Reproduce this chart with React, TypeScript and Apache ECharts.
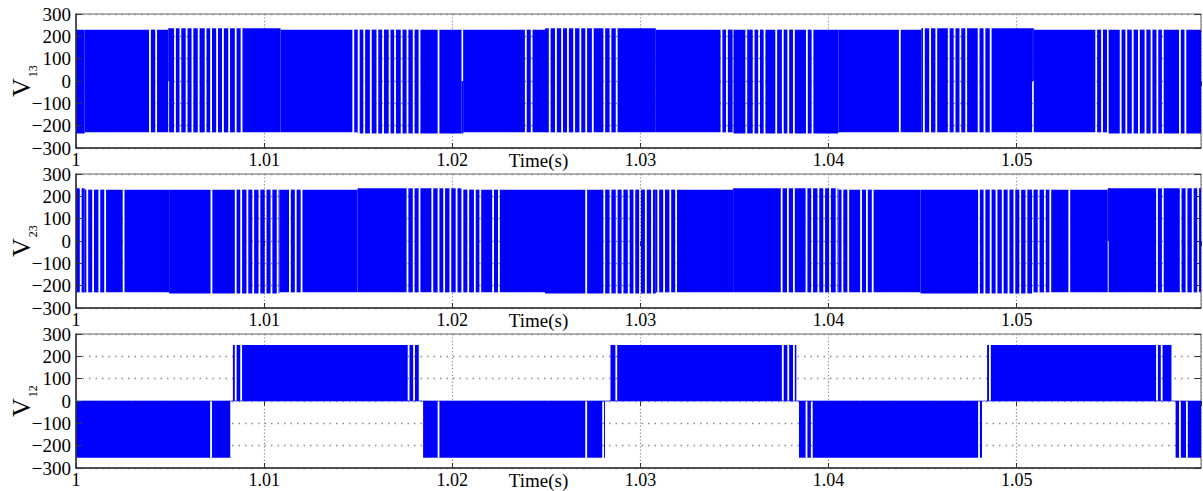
import React, { useEffect, useRef } from 'react';
import * as echarts from 'echarts';

// ---------- data (times in ms after t = 1 s) ----------
const T_END_MS = 59.8;
const X_MIN = 1;
const X_MAX = 1 + T_END_MS / 1000;
const X_LABELS = ['1', '1.01', '1.02', '1.03', '1.04', '1.05'];
const Y_LABELS = ['\u2212300', '\u2212200', '\u2212100', '0', '100', '200', '300'];
const PANEL_SUBS = ['13', '23', '12'];

// band levels (V)
const HI_NORMAL = 230;
const HI_RAISED = 236;
const LO_NORMAL = -230;
const LO_LOWERED = -235;
const V12_HI = 251;
const V12_LO = -254;

// V13 : white gaps in the PWM band
const v13Gaps = [3.93, 4.26, 5.26, 5.55, 5.88, 6.19, 6.52, 6.89, 7.18, 7.5, 7.81, 8.14, 8.49, 8.8,
  14.74, 15.03, 15.32, 15.67, 16.02, 16.32, 16.67, 16.96, 17.31, 17.62, 17.95, 18.26, 19.27,
  23.91, 24.22, 25.18, 25.51, 25.84, 26.15, 26.48, 26.81, 27.12, 27.47, 28.08, 28.41, 28.74,
  34.31, 34.6, 34.95, 35.63, 36.02, 36.31, 36.6, 37.22, 37.57, 37.86, 38.16, 38.85, 39.15,
  43.79, 45.07, 45.4, 45.73, 46.39, 46.7, 47.01, 47.32, 47.98, 48.29, 48.62,
  54.23, 54.54, 54.85, 55.53, 55.83, 56.17, 56.5, 56.85, 57.17, 57.48, 57.77, 58.68, 58.97];
const v13Partial = [[4.95, -240, 0], [20.54, 0, 240], [50.87, -240, 0]];
const v13TopRaised = [[4.95, 10.87], [24.93, 30.82], [44.93, 50.91]];
const v13BottomLowered = [[0, 0.46], [14.97, 20.58], [34.95, 40.52], [54.89, 59.8]];

// V23
const v23Gaps = [0.25, 0.6, 0.91, 1.24, 1.55, 2.53, 7.2, 8.49, 8.78, 9.11, 9.42, 9.75, 10.08, 10.39, 10.72, 11.37, 11.68, 11.99,
  17.62, 17.95, 18.26, 18.94, 19.27, 19.57, 19.9, 20.23, 20.54, 20.85, 21.2, 21.49, 22.17, 22.48,
  27.12, 28.08, 28.41, 28.74, 29.05, 29.38, 29.68, 29.98, 30.29, 30.62, 30.95, 31.26, 31.59, 31.9,
  37.51, 37.84, 38.16, 38.83, 39.13, 39.46, 39.77, 40.08, 40.43, 40.74, 41.05, 41.73, 42.04, 42.35,
  48.0, 48.29, 48.62, 48.93, 49.26, 49.57, 49.88, 50.19, 50.52, 50.85, 51.17, 51.5, 51.79, 52.8,
  57.46, 57.77, 58.72, 59.03, 59.36, 59.65];
const v23Partial = [[54.89, -240, 0]];
const v23TopRaised = [[0, 0.46], [14.97, 20.48], [34.93, 40.52], [54.89, 59.8]];
const v23BottomLowered = [[4.95, 10.81], [24.93, 30.82], [44.89, 50.82]];

// V12 : pulses [start, end, sign] and gaps
const v12Pulses = [
  [0, 8.2, -1], [8.34, 18.22, 1], [18.45, 28.12, -1], [28.41, 38.29, 1],
  [38.43, 48.16, -1], [48.43, 58.23, 1], [58.45, 59.8, -1],
];
const v12Gaps = [7.18, 8.49, 8.78, 17.68, 17.97, 19.27, 27.12, 28.02, 28.72, 37.57, 37.86, 38.16,
  38.83, 39.11, 48.0, 48.58, 57.46, 57.71, 58.68, 59.05];

// ---------- helpers ----------
const toS = (ms: number) => 1 + ms / 1000;
const inRanges = (t: number, r: number[][]) => r.some(([a, b]) => t >= a && t <= b);

function bandPieces(gaps: number[], partial: number[][], raised: number[][], lowered: number[][]) {
  const pts: { t: number; gap: boolean }[] = [{ t: 0, gap: false }, { t: T_END_MS, gap: false }];
  gaps.forEach((g) => pts.push({ t: g, gap: true }));
  partial.forEach((p) => pts.push({ t: p[0], gap: true }));
  [...raised, ...lowered].forEach(([a, b]) => {
    if (a > 0 && a < T_END_MS) pts.push({ t: a, gap: false });
    if (b > 0 && b < T_END_MS) pts.push({ t: b, gap: false });
  });
  pts.sort((a, b) => a.t - b.t);
  const out: number[][] = [];
  for (let i = 0; i < pts.length - 1; i++) {
    const a = pts[i], b = pts[i + 1];
    if (b.t - a.t <= 0) continue;
    const m = (a.t + b.t) / 2;
    const hi = inRanges(m, raised) ? HI_RAISED : HI_NORMAL;
    const lo = inRanges(m, lowered) ? LO_LOWERED : LO_NORMAL;
    out.push([toS(a.t), toS(b.t), lo, hi, a.gap ? 1 : 0, b.gap ? 1 : 0]);
  }
  partial.forEach(([t, gLo, gHi]) => {
    const hi = inRanges(t, raised) ? HI_RAISED : HI_NORMAL;
    const lo = inRanges(t, lowered) ? LO_LOWERED : LO_NORMAL;
    if (gLo > lo) out.push([toS(t), toS(t), lo, Math.min(gLo, hi), -1, -1]);
    if (gHi < hi) out.push([toS(t), toS(t), Math.max(gHi, lo), hi, -1, -1]);
  });
  return out;
}

function pulsePieces(pulses: number[][], gaps: number[]) {
  const out: number[][] = [];
  pulses.forEach(([s, e, sign]) => {
    const lo = sign > 0 ? 0 : V12_LO;
    const hi = sign > 0 ? V12_HI : 0;
    const inner = gaps.filter((g) => g > s && g < e).sort((a, b) => a - b);
    const pts = [{ t: s, gap: false }, ...inner.map((g) => ({ t: g, gap: true })), { t: e, gap: false }];
    for (let i = 0; i < pts.length - 1; i++) {
      out.push([toS(pts[i].t), toS(pts[i + 1].t), lo, hi, pts[i].gap ? 1 : 0, pts[i + 1].gap ? 1 : 0]);
    }
  });
  return out;
}

const GAP_PX = 1.8;
const BLUE = '#0000ff';
const FONT = "'Liberation Serif', 'Times New Roman', serif";
const TOPS = [14, 174, 334];

export default function App() {
  const ref = useRef<HTMLDivElement>(null);
  useEffect(() => {
    if (!ref.current) return;
    const chart = echarts.init(ref.current, undefined, { renderer: 'svg' });
    const panels = [
      bandPieces(v13Gaps, v13Partial, v13TopRaised, v13BottomLowered),
      bandPieces(v23Gaps, v23Partial, v23TopRaised, v23BottomLowered),
      pulsePieces(v12Pulses, v12Gaps),
    ];
    const renderItem = (params: any, api: any) => {
      const p0 = api.coord([api.value(0), api.value(3)]);
      const p1 = api.coord([api.value(1), api.value(2)]);
      const sl = api.value(4) * GAP_PX / 2;
      const sr = api.value(5) * GAP_PX / 2;
      const x = p0[0] + sl;
      const w = p1[0] - sr - x;
      if (w <= 0) return null;
      return {
        type: 'rect',
        shape: { x, y: p0[1], width: w, height: p1[1] - p0[1] },
        style: { fill: BLUE },
      };
    };
    const grids = TOPS.map((top) => ({
      left: 76, top, width: 1125, height: 134, show: true, containLabel: false,
      outerBoundsMode: 'none',
      borderColor: '#666', borderWidth: 1, backgroundColor: 'transparent',
    }));
    const dotX = { show: true, lineStyle: { color: '#8a8a8a', width: 1.2, type: [1.2, 2.2] } };
    const dotY = { show: true, lineStyle: { color: '#8a8a8a', width: 1.4, type: [1.5, 5] } };
    const xAxis: any[] = [];
    const yAxis: any[] = [];
    [0, 1, 2].forEach((i) => {
      xAxis.push({
        type: 'value', gridIndex: i, min: X_MIN, max: X_MAX, interval: 0.01, position: 'bottom', z: 5,
        axisLine: { show: true, onZero: false, lineStyle: { color: '#333', width: 1.5 } },
        axisTick: { show: true, inside: true, length: 5, lineStyle: { color: '#333' } },
        axisLabel: {
          show: true, margin: 3, showMaxLabel: false, color: '#000', fontFamily: FONT, fontSize: 18,
          lineHeight: 18,
          formatter: (v: number) => X_LABELS[Math.round((v - 1) * 100)] ?? '',
        },
        splitLine: { show: false },
        name: 'Time(s)', nameLocation: 'middle', nameGap: 3, nameMoveOverlap: false,
        nameTextStyle: {
          color: '#000', fontFamily: FONT, fontSize: 19, lineHeight: 19, padding: [0, 200, 0, 0],
        },
      });
    });
    [0, 1, 2].forEach((i) => {
      xAxis.push({
        type: 'value', gridIndex: i, min: X_MIN, max: X_MAX, interval: 0.01, position: 'top', z: 0,
        axisLine: { show: false },
        axisTick: { show: true, inside: true, length: 5, lineStyle: { color: '#333' } },
        axisLabel: { show: false },
        splitLine: dotX,
      });
    });
    [0, 1, 2].forEach((i) => {
      yAxis.push({
        type: 'value', gridIndex: i, min: -300, max: 300, interval: 100, position: 'left', z: 5,
        axisLine: { show: true, onZero: false, lineStyle: { color: '#333', width: 1.5 } },
        axisTick: { show: true, inside: true, length: 6, lineStyle: { color: '#333' } },
        axisLabel: {
          show: true, margin: 5, color: '#000', fontFamily: FONT, fontSize: 19,
          formatter: (v: number) => Y_LABELS[Math.round((v + 300) / 100)] ?? '',
        },
        splitLine: { show: false },
        name: `{v|V}{s|${PANEL_SUBS[i]}}`, nameLocation: 'middle', nameGap: 37, nameMoveOverlap: false,
        nameTextStyle: {
          color: '#000',
          rich: {
            v: { fontFamily: FONT, fontSize: 26, verticalAlign: 'top', lineHeight: 26, color: '#000' },
            s: { fontFamily: FONT, fontSize: 12, verticalAlign: 'top', padding: [19, 0, 0, 1], color: '#000' },
          },
        },
      });
    });
    [0, 1, 2].forEach((i) => {
      yAxis.push({
        type: 'value', gridIndex: i, min: -300, max: 300, interval: 100, position: 'right', z: 0,
        axisLine: { show: false },
        axisTick: { show: true, inside: true, length: 6, lineStyle: { color: '#333' } },
        axisLabel: { show: false },
        splitLine: dotY,
      });
    });
    const series: any[] = panels.map((data, i) => ({
      type: 'custom', xAxisIndex: i, yAxisIndex: i, data, clip: true, silent: true,
      encode: { x: [0, 1], y: [2, 3] }, renderItem, z: 2,
    }));
    series.push({
      type: 'line', xAxisIndex: 2, yAxisIndex: 2, data: [[X_MIN, 0], [X_MAX, 0]],
      symbol: 'none', silent: true, z: 1, lineStyle: { color: '#5a5aff', width: 1 },
    });
    chart.setOption({
      animation: false,
      backgroundColor: '#fff',
      grid: grids,
      xAxis,
      yAxis,
      series,
    });
    return () => chart.dispose();
  }, []);
  return (
    <div
      ref={ref}
      style={{ position: 'fixed', left: 0, top: 0, width: 1203, height: 491, background: '#fff' }}
    />
  );
}
